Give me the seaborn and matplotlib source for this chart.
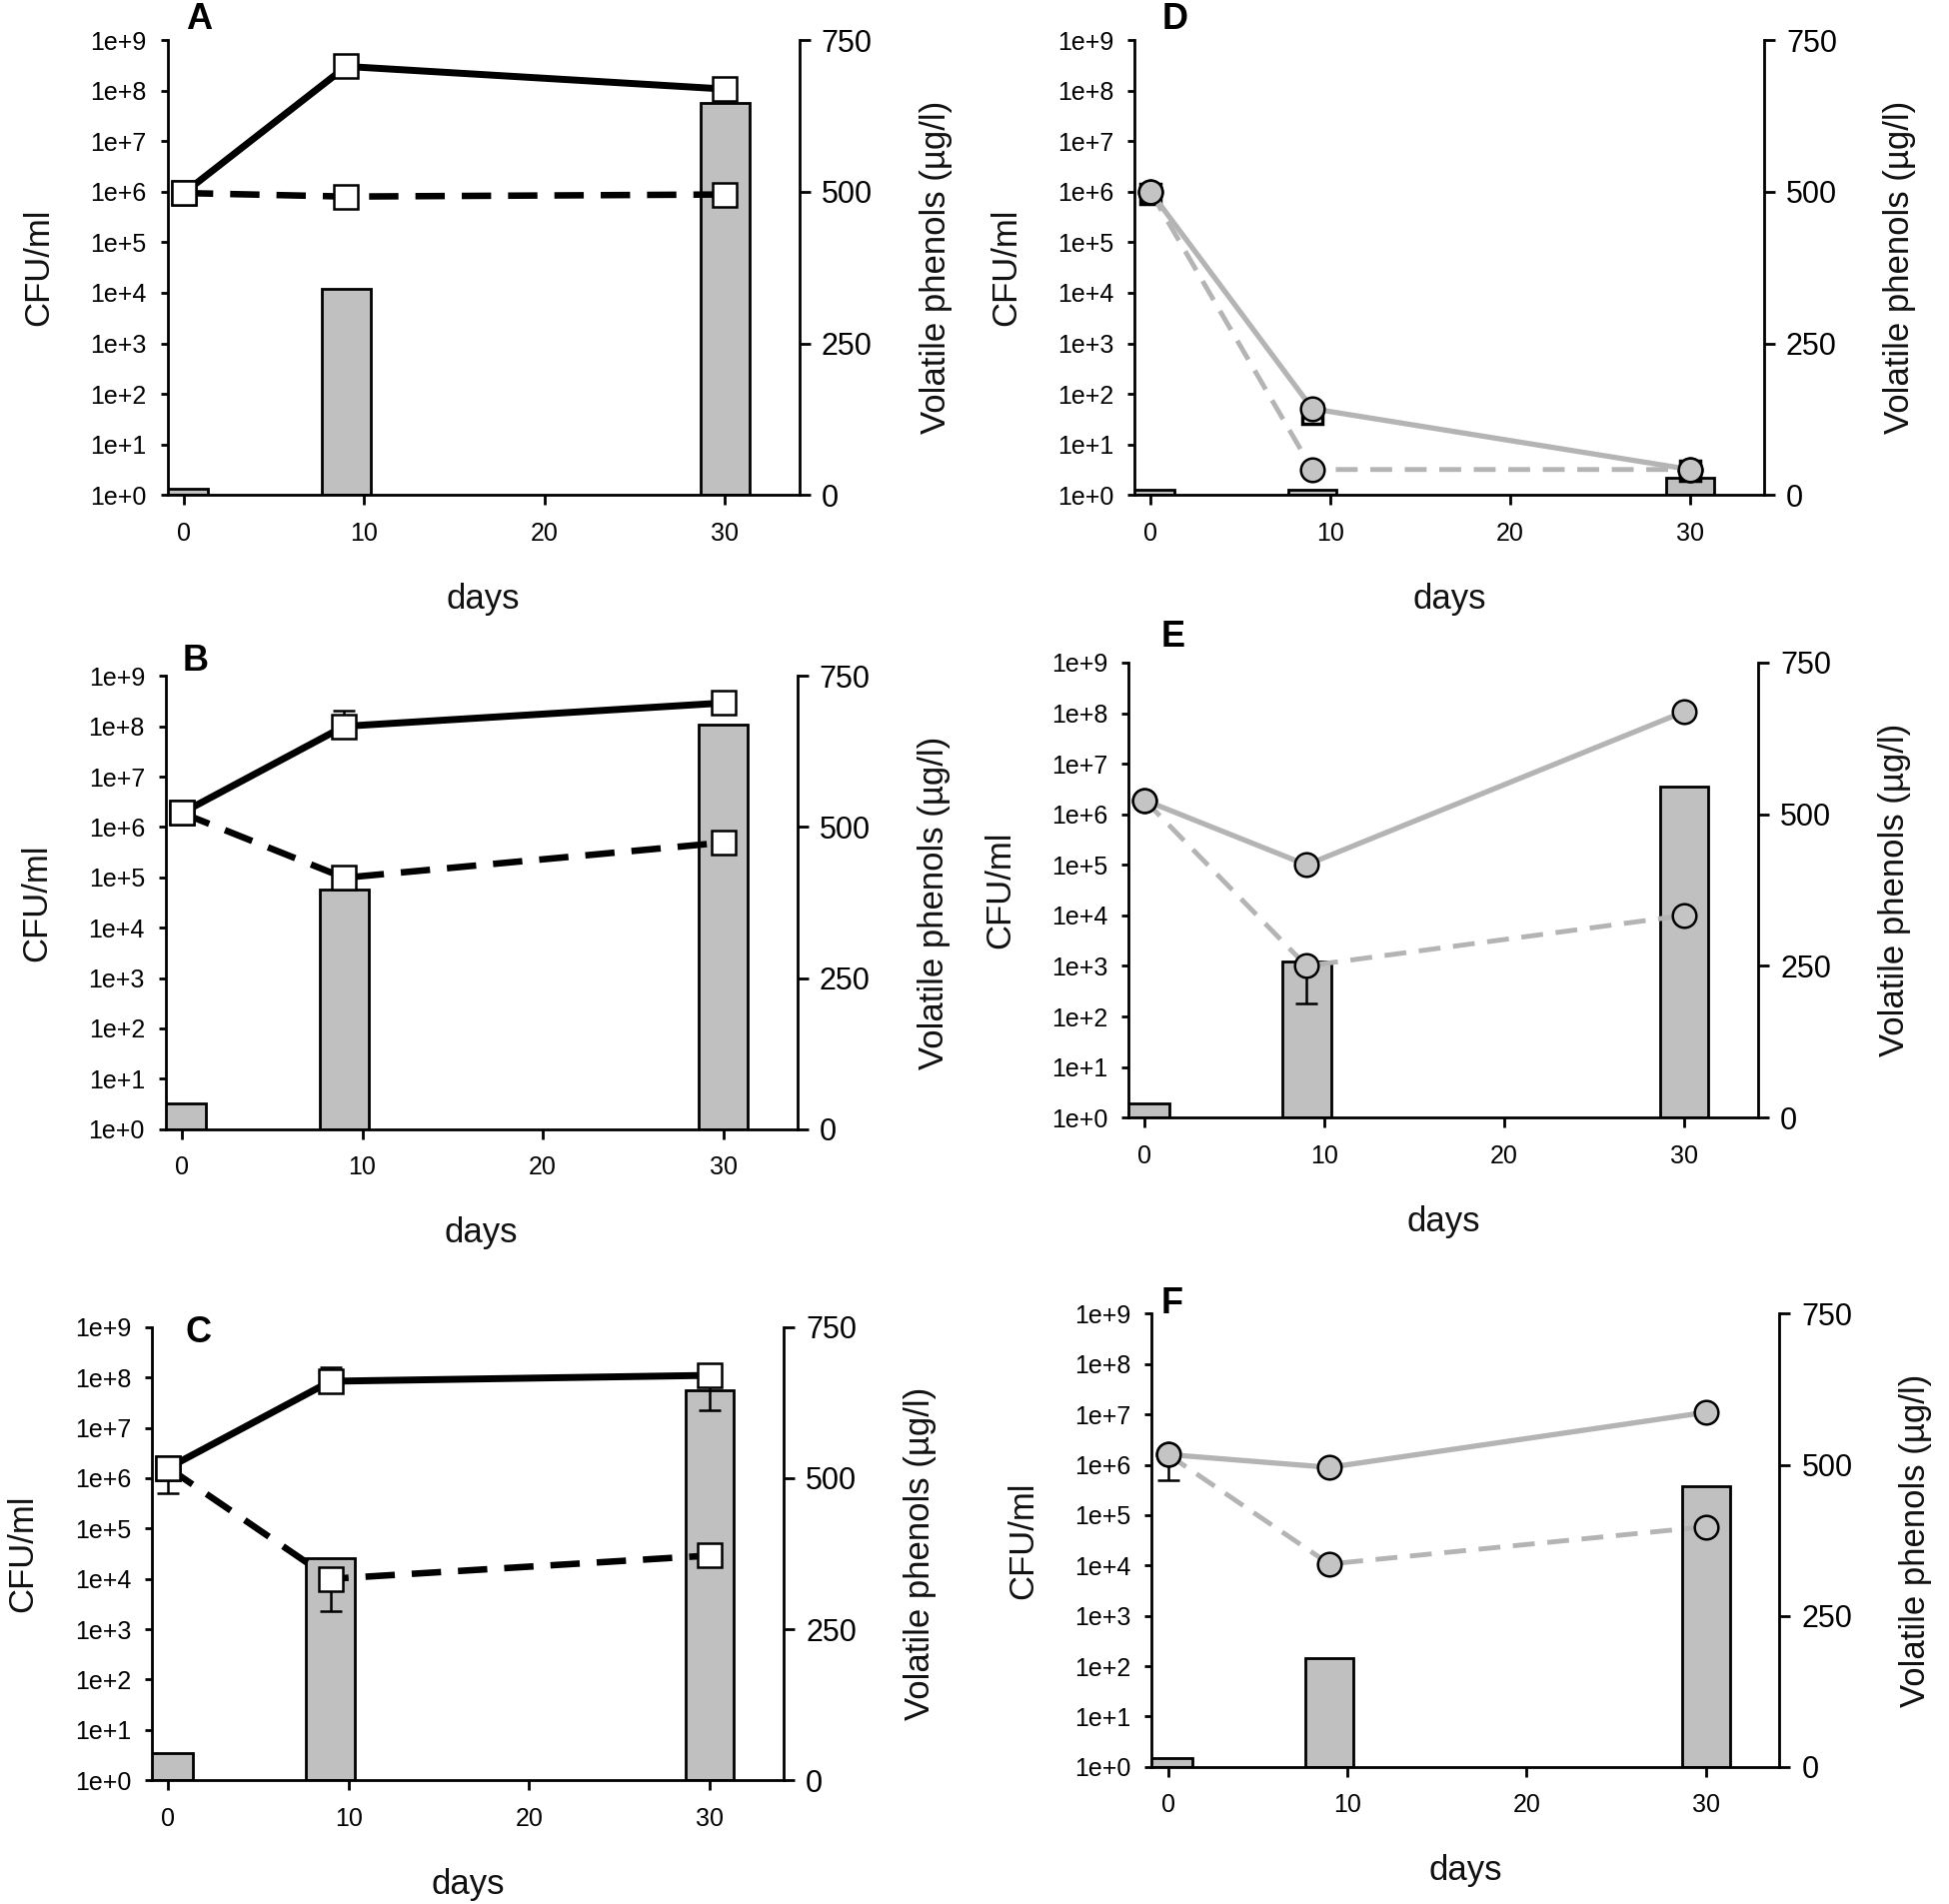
import numpy as np
import pandas as pd
import seaborn as sns
import matplotlib.pyplot as plt
from matplotlib.ticker import NullLocator

sns.set_theme(style='ticks')
plt.rcParams['font.family'] = ['Liberation Sans', 'DejaVu Sans']
plt.rcParams['text.color'] = 'black'

days = [0, 9, 30]

# CFU/ml, solid and dashed series, and volatile phenols bars (ug/l)
a_solid = [9.4e5, 3.0e8, 1.07e8]
a_dashed = [9.4e5, 8.0e5, 8.8e5]
a_bars = [10, 340, 647]

b_solid = [1.9e6, 1.0e8, 2.9e8]
b_dashed = [1.9e6, 9.8e4, 4.9e5]
b_bars = [42, 396, 669]

c_solid = [1.6e6, 8.4e7, 1.1e8]
c_dashed = [1.6e6, 1.0e4, 2.9e4]
c_bars = [45, 368, 646]

d_solid = [1.0e6, 51, 3.2]
d_dashed = [1.0e6, 3.2, 3.2]
d_hidden = [9.0e5, 40, 3.0]
d_bars = [8, 8, 29]

e_solid = [1.9e6, 1.0e5, 1.07e8]
e_dashed = [1.9e6, 1.0e3, 1.0e4]
e_bars = [24, 258, 546]

f_solid = [1.6e6, 8.9e5, 1.1e7]
f_dashed = [1.6e6, 1.07e4, 5.9e4]
f_bars = [15, 180, 464]

# error bars: panel, day, value, lower end, upper end
err_panel = ['A', 'B', 'C', 'C', 'C', 'C', 'E', 'F']
err_day = [30, 9, 0, 9, 30, 9, 9, 0]
err_val = [1.07e8, 1.0e8, 1.6e6, 8.4e7, 1.1e8, 1.0e4, 1.0e3, 1.6e6]
err_lo = [1.07e8, 1.0e8, 5.0e5, 8.4e7, 2.2e7, 2.3e3, 1.8e2, 5.0e5]
err_hi = [1.3e8, 2.0e8, 1.6e6, 1.6e8, 1.1e8, 1.0e4, 1.0e3, 1.6e6]

log_ticks = [10.0 ** i for i in range(10)]
log_labels = ['1e+%d' % i for i in range(10)]

panels = {
    'A': dict(pos=[0.086, 0.740, 0.324, 0.239], solid=a_solid, dashed=a_dashed, bars=a_bars, grey=False, txt=(0.102, 0.990)),
    'B': dict(pos=[0.085, 0.407, 0.324, 0.238], solid=b_solid, dashed=b_dashed, bars=b_bars, grey=False, txt=(0.1005, 0.6525)),
    'C': dict(pos=[0.078, 0.065, 0.324, 0.238], solid=c_solid, dashed=c_dashed, bars=c_bars, grey=False, txt=(0.102, 0.300)),
    'D': dict(pos=[0.582, 0.740, 0.323, 0.239], solid=d_solid, dashed=d_dashed, bars=d_bars, grey=True, txt=(0.603, 0.990)),
    'E': dict(pos=[0.579, 0.413, 0.323, 0.239], solid=e_solid, dashed=e_dashed, bars=e_bars, grey=True, txt=(0.602, 0.6656)),
    'F': dict(pos=[0.591, 0.072, 0.322, 0.238], solid=f_solid, dashed=f_dashed, bars=f_bars, grey=True, txt=(0.6015, 0.315)),
}

fig = plt.figure(figsize=(19.5, 19.05), dpi=100)

for name, p in panels.items():
    ax = fig.add_axes(p['pos'])
    ax2 = ax.twinx()
    ax.set_zorder(ax2.get_zorder() + 1)
    ax.patch.set_visible(False)

    # bars on the right axis
    bar_df = pd.DataFrame({'day': days, 'phenols': p['bars']})
    sns.barplot(data=bar_df, x='day', y='phenols', ax=ax2, native_scale=True,
                width=0.3, color='#c0c0c0', saturation=1, edgecolor='black',
                linewidth=2, errorbar=None)
    ax2.set_ylim(0, 750)
    ax2.set_yticks([0, 250, 500, 750])
    ax2.set_yticklabels(['0', '250', '500', '750'], fontsize=22)
    ax2.tick_params(axis='y', direction='out', length=8, width=2, pad=8, colors='black')
    ax2.set_ylabel('Volatile phenols (µg/l)', fontsize=25, color='#111111')
    ax2.yaxis.set_label_coords(1.19, 0.5)
    ax2.set_xlabel('')

    # counts on the left log axis
    ax.set_yscale('log')
    if p['grey']:
        lcol, mface, mk, lw = '#b4b4b4', '#c4c4c4', 'o', 3.8
    else:
        lcol, mface, mk, lw = 'black', 'white', 's', 5

    if name == 'D':
        sns.lineplot(x=days, y=d_hidden, ax=ax, color='black', linestyle='none',
                     marker='s', markersize=15, markerfacecolor='white',
                     markeredgecolor='black', markeredgewidth=2.5, errorbar=None)

    sns.lineplot(x=days, y=p['dashed'], ax=ax, color=lcol, linewidth=lw - 0.3,
                 linestyle=(0, (4.5, 2.6)), marker=mk, markersize=17,
                 markerfacecolor=mface, markeredgecolor='black',
                 markeredgewidth=1.8, errorbar=None)
    sns.lineplot(x=days, y=p['solid'], ax=ax, color=lcol, linewidth=lw,
                 marker=mk, markersize=17, markerfacecolor=mface,
                 markeredgecolor='black', markeredgewidth=1.8, errorbar=None)

    for pn, d, v, lo, hi in zip(err_panel, err_day, err_val, err_lo, err_hi):
        if pn == name:
            ax.errorbar([d], [v], yerr=[[v - lo], [hi - v]], fmt='none',
                        ecolor='black', elinewidth=1.8, capsize=8, capthick=1.8,
                        zorder=1.5)

    ax.set_ylim(1, 1e9)
    ax.set_yticks(log_ticks)
    ax.set_yticklabels(log_labels, fontsize=18)
    ax.yaxis.set_minor_locator(NullLocator())
    ax.set_xlim(-0.9, 34.1)
    ax.set_xticks([0, 10, 20, 30])
    ax.set_xticklabels(['0', '10', '20', '30'], fontsize=18)
    ax.tick_params(axis='y', direction='out', length=5, width=2, pad=10, colors='black')
    ax.tick_params(axis='x', direction='out', length=7, width=2, pad=12, colors='black')
    ax.set_ylabel('CFU/ml', fontsize=25, color='#111111')
    ax.yaxis.set_label_coords(-0.178, 0.5)
    ax.set_xlabel('days', fontsize=25, color='#111111')
    ax.xaxis.set_label_coords(0.5, -0.193)

    for s in ['top', 'right']:
        ax.spines[s].set_visible(False)
    for s in ['top', 'left', 'bottom']:
        ax2.spines[s].set_visible(False)
    for s in ['left', 'bottom']:
        ax.spines[s].set_linewidth(2)
        ax.spines[s].set_color('black')
    ax2.spines['right'].set_linewidth(2)
    ax2.spines['right'].set_color('black')

    fig.text(p['txt'][0], p['txt'][1], name, fontsize=26, fontweight='bold',
             ha='center', va='center', color='black')

fig.savefig('out.png', dpi=100, facecolor='white')
